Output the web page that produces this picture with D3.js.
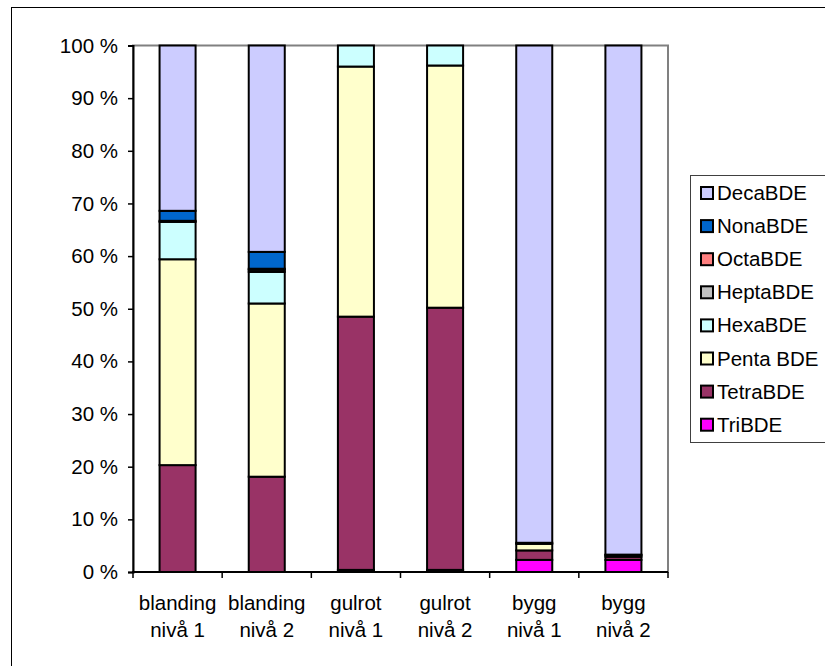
<!DOCTYPE html>
<html>
<head>
<meta charset="utf-8">
<script src="https://cdn.jsdelivr.net/npm/d3@7"></script>
<style>
  html, body { margin: 0; padding: 0; background: #fff; }
  svg { display: block; }
  text { font-family: "Liberation Sans", Arial, sans-serif; fill: #000; }
</style>
</head>
<body>
<svg id="chart" width="825" height="666"></svg>
<script>
// Sample groups (two label lines each)
const categories = ["blanding nivå 1", "blanding nivå 2", "gulrot nivå 1", "gulrot nivå 2", "bygg nivå 1", "bygg nivå 2"];
const categoryLines = [["blanding", "nivå 1"], ["blanding", "nivå 2"], ["gulrot", "nivå 1"], ["gulrot", "nivå 2"], ["bygg", "nivå 1"], ["bygg", "nivå 2"]];

// Share of each congener group, percent of total PBDE
const triBDE   = [0,    0,    0.4,  0.4,  2.3,   2.3];
const tetraBDE = [20.3, 18.1, 48.1, 49.8, 1.8,   0.6];
const pentaBDE = [39.1, 32.9, 47.5, 46.0, 1.25,  0.3];
const hexaBDE  = [7.1,  6.0,  4.0,  3.8,  0.2,   0.1];
const heptaBDE = [0.2,  0.4,  0,    0,    0,     0];
const octaBDE  = [0,    0.2,  0,    0,    0,     0];
const nonaBDE  = [1.9,  3.2,  0,    0,    0,     0];
const decaBDE  = [31.4, 39.2, 0,    0,    94.45, 96.7];

// Stack order, bottom to top
const seriesNames = ["TriBDE", "TetraBDE", "Penta BDE", "HexaBDE", "HeptaBDE", "OctaBDE", "NonaBDE", "DecaBDE"];
const seriesValues = [triBDE, tetraBDE, pentaBDE, hexaBDE, heptaBDE, octaBDE, nonaBDE, decaBDE];
const seriesColors = ["#FF00FF", "#993366", "#FFFFCC", "#CCFFFF", "#C0C0C0", "#FF8080", "#0066CC", "#CCCCFF"];

const yTicks = [0, 10, 20, 30, 40, 50, 60, 70, 80, 90, 100];

const FONT = "20.5px";
const svg = d3.select("#chart");

// Outer chart frame
svg.append("rect")
  .attr("x", 11.5).attr("y", 7.5)
  .attr("width", 900).attr("height", 900)
  .attr("fill", "#fff").attr("stroke", "#000").attr("stroke-width", 1);

const plot = { left: 133, right: 668, top: 45.5, bottom: 572 };

const x = d3.scaleBand().domain(categories).range([plot.left, plot.right]).paddingInner(0).paddingOuter(0);
const y = d3.scaleLinear().domain([0, 100]).range([plot.bottom, plot.top]);

// Plot area outline
svg.append("rect")
  .attr("x", plot.left).attr("y", plot.top)
  .attr("width", plot.right - plot.left).attr("height", plot.bottom - plot.top)
  .attr("fill", "none").attr("stroke", "#808080").attr("stroke-width", 2);

// Stacked data
const rows = categories.map((c, i) => {
  const r = { cat: c };
  seriesNames.forEach((s, k) => { r[s] = seriesValues[k][i]; });
  return r;
});
const stacked = d3.stack().keys(seriesNames)(rows);

const barW = x.bandwidth() * 0.404;
const layers = svg.append("g").selectAll("g")
  .data(stacked)
  .join("g")
  .attr("fill", (d, i) => seriesColors[i]);

layers.selectAll("rect")
  .data(d => d.filter(p => p[1] - p[0] > 0))
  .join("rect")
  .attr("x", d => x(d.data.cat) + (x.bandwidth() - barW) / 2)
  .attr("width", barW)
  .attr("y", d => y(d[1]))
  .attr("height", d => y(d[0]) - y(d[1]))
  .attr("stroke", "#000")
  .attr("stroke-width", 2);

// Y axis
const yAxis = svg.append("g")
  .attr("transform", `translate(${plot.left},0)`)
  .call(d3.axisLeft(y).tickValues(yTicks).tickFormat(d => d + " %").tickSize(5).tickPadding(10));
yAxis.select(".domain").attr("stroke", "#000").attr("stroke-width", 2);
yAxis.selectAll(".tick line").attr("stroke", "#000").attr("stroke-width", 1.5);
yAxis.selectAll(".tick text")
  .style("font-family", "'Liberation Sans', Arial, sans-serif")
  .style("font-size", FONT).attr("fill", "#000");

// X axis line and category boundary ticks
const xAxisG = svg.append("g");
xAxisG.append("line")
  .attr("x1", plot.left - 1).attr("x2", plot.right)
  .attr("y1", plot.bottom).attr("y2", plot.bottom)
  .attr("stroke", "#000").attr("stroke-width", 2);
const boundaries = categories.map(c => x(c)).concat([x.range()[1]]);
xAxisG.selectAll("line.tk")
  .data(boundaries)
  .join("line")
  .attr("class", "tk")
  .attr("x1", d => d).attr("x2", d => d)
  .attr("y1", plot.bottom).attr("y2", plot.bottom + 6)
  .attr("stroke", "#000").attr("stroke-width", 1.5);

// Category labels
const labels = xAxisG.selectAll("text.cat")
  .data(categories)
  .join("text")
  .attr("class", "cat")
  .attr("text-anchor", "middle")
  .style("font-size", FONT);
labels.each(function(c, i) {
  const t = d3.select(this);
  categoryLines[i].forEach((line, j) => {
    t.append("tspan")
      .attr("x", x(c) + x.bandwidth() / 2)
      .attr("y", 610 + j * 27)
      .text(line);
  });
});

// Legend, listed top to bottom
const legend = svg.append("g");
legend.append("rect")
  .attr("x", 690.5).attr("y", 175.5)
  .attr("width", 200).attr("height", 267)
  .attr("fill", "#fff").attr("stroke", "#404040").attr("stroke-width", 1);

const legendOrder = d3.range(seriesNames.length).reverse();
const legendItems = legend.selectAll("g.item")
  .data(legendOrder)
  .join("g")
  .attr("class", "item")
  .attr("transform", (k, i) => `translate(701, ${193 + i * 33.1})`);
legendItems.append("rect")
  .attr("x", 0).attr("y", -6)
  .attr("width", 12).attr("height", 12)
  .attr("fill", k => seriesColors[k])
  .attr("stroke", "#000").attr("stroke-width", 2);
legendItems.append("text")
  .attr("x", 16).attr("y", 7)
  .style("font-size", FONT)
  .text(k => seriesNames[k]);
</script>
</body>
</html>
